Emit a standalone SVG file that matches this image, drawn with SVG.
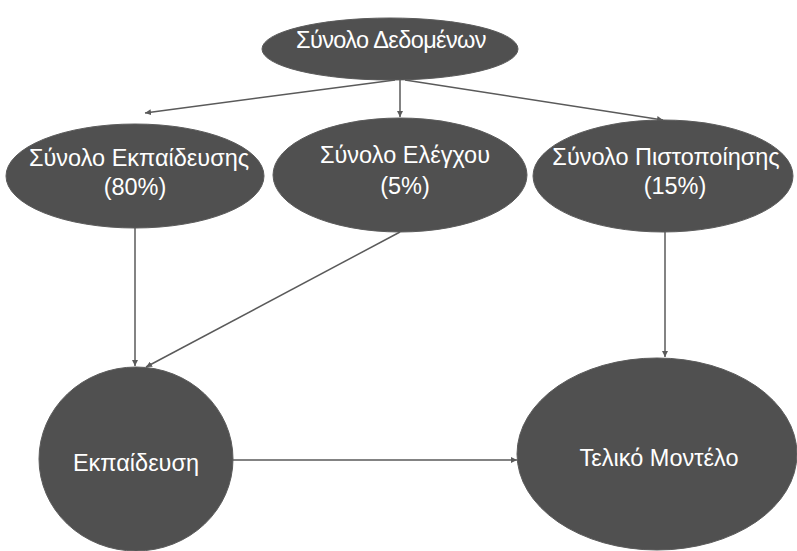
<svg xmlns="http://www.w3.org/2000/svg" width="797" height="551" viewBox="0 0 797 551">
<defs>
<style>
.node{fill:#505050;stroke:#5c5c5c;stroke-width:1}
.lbl{fill:#ffffff;font-family:"Liberation Sans",Arial,sans-serif;font-size:23.5px;text-anchor:middle}
.edge{stroke:#5a5a5a;stroke-width:1.5;fill:none;marker-end:url(#arr)}
</style>
<marker id="arr" viewBox="0 0 10 10" refX="10" refY="5" markerWidth="6" markerHeight="6" orient="auto" markerUnits="userSpaceOnUse">
<path d="M0,0 L10,5 L0,10 z" fill="#5a5a5a"/>
</marker>
</defs>
<rect width="797" height="551" fill="#ffffff"/>
<g id="connectors">
<line class="edge" x1="395" y1="80" x2="145" y2="113"/>
<line class="edge" x1="400" y1="80" x2="400" y2="117"/>
<line class="edge" x1="405" y1="80" x2="663" y2="120"/>
<line class="edge" x1="135" y1="228" x2="135" y2="366"/>
<line class="edge" x1="400" y1="232" x2="146" y2="367"/>
<line class="edge" x1="665" y1="232" x2="665" y2="357"/>
<line class="edge" x1="232" y1="460" x2="517" y2="460"/>
</g>
<g id="n-dataset">
<ellipse class="node" cx="390" cy="49" rx="128" ry="31"/>
<text class="lbl" x="391" y="48" letter-spacing="-0.6">Σύνολο Δεδομένων</text>
</g>
<g id="n-train-set">
<ellipse class="node" cx="135" cy="176" rx="129" ry="52"/>
<text class="lbl" x="139" y="166">Σύνολο Εκπαίδευσης</text>
<text class="lbl" x="135" y="195">(80%)</text>
</g>
<g id="n-test-set">
<ellipse class="node" cx="400" cy="175" rx="127" ry="57"/>
<text class="lbl" x="405" y="163">Σύνολο Ελέγχου</text>
<text class="lbl" x="405" y="194">(5%)</text>
</g>
<g id="n-val-set">
<ellipse class="node" cx="663" cy="176" rx="130" ry="56"/>
<text class="lbl" x="666" y="165">Σύνολο Πιστοποίησης</text>
<text class="lbl" x="675" y="194">(15%)</text>
</g>
<g id="n-training">
<ellipse class="node" cx="136" cy="459" rx="97" ry="92"/>
<text class="lbl" x="136" y="471">Εκπαίδευση</text>
</g>
<g id="n-final">
<ellipse class="node" cx="657" cy="454" rx="140" ry="96"/>
<text class="lbl" x="659" y="466">Τελικό Μοντέλο</text>
</g>
</svg>
